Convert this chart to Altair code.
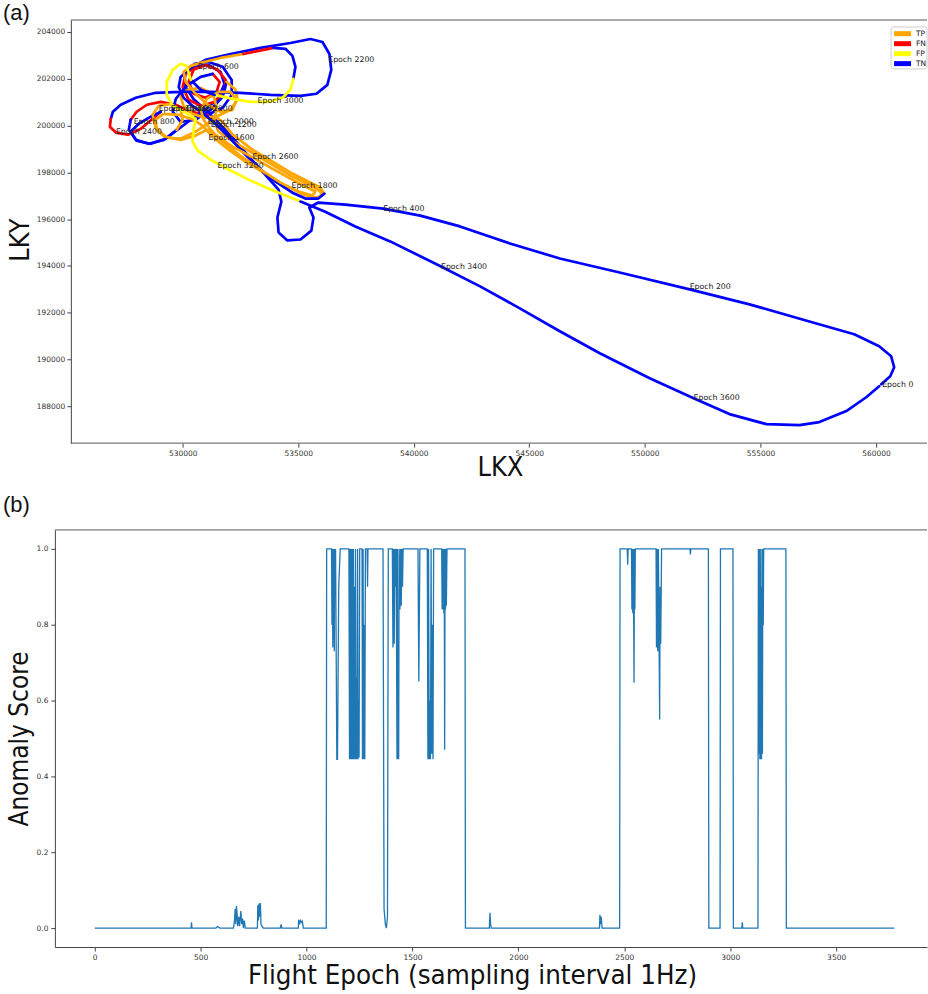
import altair as alt
import pandas as pd

# ---------------- Panel (a): flight trajectory, split into classified segments ----------------
seg_class = ["TN", "FN", "TN", "FN", "TN", "TP", "TN", "FN", "TN", "TP", "FN", "TN", "FP", "TN", "FP", "TN"]

seg_lkx = [
    [560230, 560620, 560790, 560660, 560140, 559060, 557120, 554530, 551940, 548910, 546320, 544160, 542000, 540280,
     538680, 537040, 535870, 535480, 535660, 535570, 535100, 534530, 534150, 534100, 534270, 534150, 533450, 532760,
     532160, 531640, 531080, 530470, 530090, 530090, 530520, 531120, 531730, 532120, 532120, 531730, 531080],
    [531080, 530350, 529700, 529050, 528450, 528010, 527750],
    [527750, 527670, 527970, 528530, 529180, 529780, 530350, 530990, 531550, 531810, 531640, 531120, 530560],
    [530560, 530130, 530000, 530260, 530780, 531380, 531810, 531860, 531510, 530990, 530470, 530260, 530470, 530990,
     531470, 531600, 531300],
    [531300, 530780, 530170, 529700, 529570, 529910, 530560, 531210, 531730, 531900],
    [531900, 532290, 532370, 532070, 531550, 530990, 530430, 530040, 529910, 530220, 530780, 531300, 531470, 531380,
     531550, 532070, 532940, 533800, 534660, 535440, 535870, 536050, 535790, 535220, 534450, 533580, 532720, 531990,
     531340, 530910, 530470, 529830, 529180, 528830, 528880, 529270, 529910, 530560, 531080, 531420, 531730, 532160,
     533020, 533890, 534750, 535530, 535960, 536130],
    [536130, 535870, 535310, 534750, 534020, 533280, 532590, 531990, 531420, 530910, 530430, 530040, 529830, 529910,
     530350, 530990, 532070, 533370, 534660, 535530, 536050, 536350, 536430, 536260, 535790, 535100, 533800, 532500,
     531210, 529910, 528830, 527970, 527320, 526980, 526890],
    [526890, 526850, 527110, 527630, 528190, 528700, 529050],
    [529050, 528620, 528100, 527750, 528010, 528620, 529270, 529740],
    [529740, 530000, 529910, 529480, 528960, 528700, 528830, 529270, 529910, 530560, 531040, 531470, 532160, 532980,
     533800, 534660, 535310, 535740, 535610, 535010, 534230, 533370, 532500, 531730, 531210, 530910, 530780, 531040,
     531550, 532070, 532330, 532160, 531640, 531080, 530560, 530130, 530040, 530350, 530780, 531640, 532630],
    [532630, 533280, 533930],
    [533930, 534450, 534750, 534880, 534790],
    [534790, 534660, 534320, 533710, 532940, 532160, 531380],
    [531380, 530780, 530350],
    [530350, 530170, 529910, 529570, 529310, 529310, 529570, 530130, 530560, 530470, 530430, 530650, 531210, 531990,
     532850, 533710, 534450, 535100],
    [535100, 536170, 537470, 538980, 541180, 542870, 544590, 546320, 548050, 550210, 552110, 553660, 555260, 556690,
     557550, 558720, 559580, 560140],
]

seg_lky = [
    [188950, 189290, 189670, 190140, 190570, 191080, 191630, 192360, 193000, 193720, 194320, 194960, 195690, 196150,
     196450, 196620, 196710, 196500, 196070, 195510, 195130, 195090, 195430, 196070, 196750, 197260, 198030, 198800,
     199480, 200030, 200590, 201140, 201700, 202250, 202640, 202720, 202510, 201950, 201310, 200760, 200460],
    [200460, 200590, 200890, 201010, 200890, 200590, 200250],
    [200250, 199820, 199390, 199220, 199390, 199820, 200250, 200670, 201190, 201780, 202290, 202590, 202550],
    [202550, 202210, 201650, 201100, 200840, 201010, 201440, 201950, 202380, 202590, 202380, 201870, 201360, 201190,
     201440, 201870, 202210],
    [202210, 202080, 201700, 201140, 200590, 200160, 200250, 200670, 201230, 201870],
    [201870, 201530, 201100, 200670, 200420, 200330, 200500, 200840, 201230, 201530, 201610, 201360, 200800, 200160,
     199740, 199390, 198880, 198370, 197860, 197480, 197260, 197050, 196920, 197050, 197430, 197950, 198460, 198970,
     199480, 199950, 200250, 200460, 200500, 200250, 199820, 199480, 199440, 199740, 200080, 200380, 200160, 199610,
     198970, 198460, 197950, 197560, 197350, 197090],
    [197090, 196880, 196880, 197130, 197600, 198200, 198880, 199520, 200080, 200500, 200840, 201190, 201650, 202080,
     202460, 202810, 203060, 203320, 203530, 203700, 203570, 203060, 202380, 201740, 201360, 201270, 201310, 201400,
     201440, 201440, 201400, 201190, 200890, 200590, 200290],
    [200290, 199950, 199700, 199610, 199860, 200290, 200590],
    [200590, 200380, 200080, 199740, 199350, 199220, 199440, 199820],
    [199820, 200250, 200670, 200930, 200840, 200460, 199910, 199520, 199390, 199570, 199820, 199570, 199100, 198670,
     198200, 197730, 197390, 197180, 197010, 197180, 197560, 198120, 198710, 199310, 199820, 200250, 200670, 201140,
     201440, 201440, 201100, 200670, 200590, 200890, 201360, 201870, 202290, 202550, 202680, 202890, 203060],
    [203060, 203190, 203320],
    [203320, 203280, 202980, 202510, 202000],
    [202000, 201530, 201190, 201010, 201010, 201140, 201310],
    [201310, 201530, 201950],
    [201950, 202550, 202640, 202380, 201870, 201310, 200840, 200550, 200290, 199820, 199310, 198930, 198540, 198120,
     197690, 197310, 197010, 196750],
    [196750, 196320, 195690, 195050, 193980, 193130, 192190, 191210, 190270, 189200, 188350, 187670, 187240, 187200,
     187330, 187800, 188390, 188860],
]

epoch_names = ["Epoch 0", "Epoch 200", "Epoch 400", "Epoch 600", "Epoch 800", "Epoch 1000", "Epoch 1200",
               "Epoch 1400", "Epoch 1600", "Epoch 1800", "Epoch 2000", "Epoch 2200", "Epoch 2400", "Epoch 2600",
               "Epoch 2800", "Epoch 3000", "Epoch 3200", "Epoch 3400", "Epoch 3600"]
epoch_lkx = [560270, 551940, 538680, 530650, 527880, 528960, 531210, 529480, 531120, 534710, 531080, 536300,
             527110, 533020, 530170, 533240, 531510, 541180, 552110]
epoch_lky = [188820, 193000, 196370, 202420, 200080, 200630, 199950, 200630, 199390, 197350, 200080, 202720,
             199650, 198580, 200630, 200970, 198200, 193890, 188270]

class_names = ["TP", "FN", "FP", "TN"]
class_colors = ["#FFA500", "#FF0000", "#FFFF00", "#0000FF"]

lkx_ticks = [530000, 535000, 540000, 545000, 550000, 555000, 560000]
lky_ticks = [188000, 190000, 192000, 194000, 196000, 198000, 200000, 202000, 204000]

# ---------------- Panel (b): anomaly score over flight epochs (breakpoints) ----------------
score_steps = [
    (0, 0), (455, 0), (457, 0.015), (459, 0), (572, 0), (580, 0.004), (590, 0),
    (655, 0), (660, 0.02), (663, 0.05), (666, 0.01), (669, 0.058), (672, 0.04), (675, 0.005), (680, 0.03),
    (684, 0.005), (690, 0.045), (694, 0.01), (698, 0.025), (702, 0), (706, 0.02), (711, 0),
    (768, 0), (770, 0.06), (773, 0.02), (776, 0.065), (779, 0.03), (782, 0.066), (785, 0.01), (790, 0.005), (796, 0),
    (876, 0), (880, 0.01), (884, 0),
    (961, 0), (963, 0.022), (967, 0.01), (971, 0.02), (976, 0.015), (980, 0.018), (985, 0),
    (1093, 0), (1095, 1), (1118, 1), (1120, 0.8), (1122, 1), (1124, 0.74), (1126, 1), (1127, 0.76), (1129, 1),
    (1131, 0.73), (1133, 1), (1135, 0.9), (1137, 1), (1143, 0.445), (1146, 0.445), (1152, 0.9), (1159, 1),
    (1200, 1), (1203, 0.445), (1206, 1), (1208, 0.445), (1211, 1), (1213, 0.445), (1216, 1), (1218, 0.445),
    (1221, 1), (1223, 0.445), (1226, 0.9), (1228, 0.445), (1231, 1), (1233, 0.445), (1236, 0.66), (1238, 0.445),
    (1241, 1), (1243, 0.445), (1246, 0.6), (1248, 0.45), (1251, 1),
    (1262, 1), (1264, 0.445), (1267, 1), (1269, 0.445), (1272, 0.8), (1275, 0.445), (1278, 1),
    (1286, 1), (1288, 0.9), (1290, 1),
    (1361, 1), (1366, 0.05), (1372, 0.01), (1377, 0), (1382, 0.03), (1386, 1),
    (1405, 1), (1408, 0.74), (1411, 1), (1414, 0.75), (1417, 1), (1420, 0.9), (1423, 1), (1427, 0.445), (1429, 1),
    (1431, 0.445), (1433, 0.7), (1435, 0.445), (1437, 1), (1441, 0.84), (1444, 1), (1447, 0.85), (1450, 1),
    (1453, 0.9), (1456, 1),
    (1526, 1), (1530, 0.65), (1535, 1),
    (1570, 1), (1573, 0.445), (1576, 1), (1579, 0.445), (1582, 0.6), (1585, 0.445), (1588, 1), (1591, 0.46),
    (1594, 0.8), (1597, 0.445), (1600, 1),
    (1638, 1), (1640, 0.84), (1642, 1), (1644, 0.84), (1646, 1), (1648, 0.83), (1650, 1), (1652, 0.47), (1654, 1),
    (1656, 0.84), (1658, 1), (1660, 0.85), (1663, 1),
    (1748, 1), (1750, 0),
    (1863, 0), (1866, 0.04), (1869, 0.01), (1872, 0),
    (2383, 0), (2385, 0.035), (2388, 0.01), (2391, 0.03), (2395, 0),
    (2478, 0), (2480, 1), (2514, 1), (2516, 0.958), (2518, 1),
    (2534, 1), (2536, 0.84), (2538, 1), (2540, 0.83), (2542, 1), (2544, 0.85), (2546, 0.647), (2548, 1),
    (2550, 0.84), (2552, 1),
    (2650, 1), (2652, 0.74), (2655, 1), (2658, 0.73), (2661, 1), (2664, 0.76), (2667, 0.55), (2669, 0.9),
    (2672, 0.75), (2676, 1),
    (2810, 1), (2812, 0.985), (2814, 1),
    (2897, 1), (2899, 0), (2952, 0), (2954, 1), (3013, 1), (3015, 0),
    (3055, 0), (3057, 0.015), (3059, 0),
    (3131, 0), (3133, 1), (3136, 0.46), (3138, 1), (3140, 0.445), (3142, 1), (3144, 0.445), (3146, 0.9),
    (3148, 0.445), (3150, 1), (3152, 0.46), (3154, 1), (3156, 0.8), (3158, 1),
    (3263, 1), (3265, 0), (3775, 0),
]
epoch_ticks = [0, 500, 1000, 1500, 2000, 2500, 3000, 3500]
score_ticks = [0.0, 0.2, 0.4, 0.6, 0.8, 1.0]

# ---------------- tables ----------------
rows = []
for s, (cls, xs, ys) in enumerate(zip(seg_class, seg_lkx, seg_lky)):
    for i, (x, y) in enumerate(zip(xs, ys)):
        rows.append({"seg": s, "idx": i, "LKX": x, "LKY": y, "cls": cls})
traj_df = pd.DataFrame(rows)
lab_df = pd.DataFrame({"LKX": epoch_lkx, "LKY": epoch_lky, "name": epoch_names})
score_df = pd.DataFrame({
    "i": list(range(len(score_steps))),
    "epoch": [p[0] for p in score_steps],
    "score": [p[1] for p in score_steps],
})

W = 874
H1 = 424
H2 = 418
TICK_FONT = "DejaVu Sans"
TITLE_FONT = "Liberation Sans Narrow, DejaVu Sans Condensed, DejaVu Sans"
one = alt.Data(values=[{"k": 1}])

xsc_a = alt.Scale(domain=[524470, 562210], nice=False, zero=False)
ysc_a = alt.Scale(domain=[186430, 204510], nice=False, zero=False)
cscale = alt.Scale(domain=class_names, range=class_colors)

x_axis_a = alt.Axis(title="LKX", values=lkx_ticks, format="d", domain=False,
                    titleX=446, titleY=24, titleBaseline="middle", titleAlign="center", titleFontSize=27)
y_axis_a = alt.Axis(title="LKY", values=lky_ticks, format="d", offset=-16,
                    titleX=-50, titleY=220, titleBaseline="middle", titleAlign="center", titleFontSize=27)

traj = alt.Chart(traj_df).mark_line(strokeWidth=2.7, strokeJoin="round", strokeCap="round").encode(
    x=alt.X("LKX:Q", scale=xsc_a, axis=x_axis_a),
    y=alt.Y("LKY:Q", scale=ysc_a, axis=y_axis_a),
    color=alt.Color("cls:N", scale=cscale, legend=None),
    detail="seg:N",
    order="idx:Q",
)

epoch_text = alt.Chart(lab_df).mark_text(align="left", baseline="alphabetic", fontSize=7.8,
                                         font=TICK_FONT, color="#222").encode(
    x=alt.X("LKX:Q", scale=xsc_a, axis=x_axis_a),
    y=alt.Y("LKY:Q", scale=ysc_a, axis=y_axis_a),
    text="name:N",
)

frame_top_a = alt.Chart(one).mark_rule(color="#555", strokeWidth=1).encode(
    x=alt.value(16), x2=alt.value(W), y=alt.value(0))
frame_bot_a = alt.Chart(one).mark_rule(color="#555", strokeWidth=1).encode(
    x=alt.value(16), x2=alt.value(W), y=alt.value(H1))
tag_a = alt.Chart(one).mark_text(text="(a)", align="left", baseline="top", fontSize=22,
                                 font="Liberation Sans", color="#111").encode(
    x=alt.value(-52), y=alt.value(-17))

# legend box drawn inside the top-right corner of panel (a)
legend_layers = [
    alt.Chart(one).mark_rect(fill="white", stroke="#cccccc", strokeWidth=1, cornerRadius=2).encode(
        x=alt.value(838), x2=alt.value(W), y=alt.value(7), y2=alt.value(49))
]
for k, (name, col) in enumerate(zip(class_names, class_colors)):
    yy = 13.7 + 10 * k
    legend_layers.append(
        alt.Chart(one).mark_rule(color=col, strokeWidth=5).encode(
            x=alt.value(841), x2=alt.value(858), y=alt.value(yy)))
    legend_layers.append(
        alt.Chart(one).mark_text(text=name, align="left", baseline="middle", fontSize=7.5,
                                 font=TICK_FONT, color="#222").encode(
            x=alt.value(863), y=alt.value(yy)))

top = alt.layer(frame_top_a, frame_bot_a, traj, epoch_text, tag_a, *legend_layers).properties(
    width=W, height=H1)

x_axis_b = alt.Axis(title="Flight Epoch (sampling interval 1Hz)", values=epoch_ticks, format="d",
                    titleX=418, titleY=29, titleBaseline="middle", titleAlign="center", titleFontSize=27.5)
y_axis_b = alt.Axis(title="Anomaly Score", values=score_ticks, format=".1f",
                    titleX=-35, titleY=209, titleBaseline="middle", titleAlign="center",
                    titleFontSize=26, labelPadding=3)

score_line = alt.Chart(score_df).mark_line(color="#1f77b4", strokeWidth=1.3).encode(
    x=alt.X("epoch:Q", scale=alt.Scale(domain=[-188, 3929], nice=False, zero=False), axis=x_axis_b),
    y=alt.Y("score:Q", scale=alt.Scale(domain=[-0.05, 1.05], nice=False, zero=False), axis=y_axis_b),
    order="i:Q",
)
frame_top_b = alt.Chart(one).mark_rule(color="#555", strokeWidth=1).encode(
    x=alt.value(0), x2=alt.value(W), y=alt.value(0))
tag_b = alt.Chart(one).mark_text(text="(b)", align="left", baseline="top", fontSize=22,
                                 font="Liberation Sans", color="#111").encode(
    x=alt.value(-52), y=alt.value(-35))

bottom = alt.layer(frame_top_b, score_line, tag_b).properties(width=W, height=H2)

chart = alt.vconcat(top, bottom, spacing=12).properties(
    padding={"left": 2, "top": 0, "right": 0, "bottom": 0}
).configure_view(stroke="transparent").configure_axis(
    labelFont=TICK_FONT, labelFontSize=7.5, labelColor="#333",
    tickColor="#444", domainColor="#444", tickSize=4, labelPadding=2, grid=False,
    titleFont=TITLE_FONT, titleFontWeight="normal", titleColor="#111",
)

chart.save("out.html", embed_options={"renderer": "svg", "actions": False})
